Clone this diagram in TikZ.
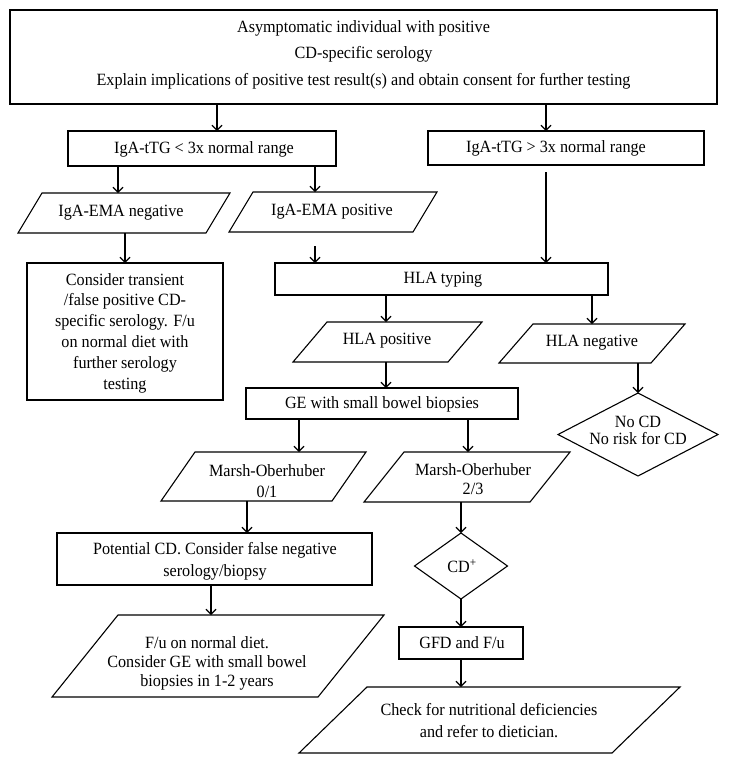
\documentclass[tikz,border=0pt]{standalone}
\usepackage{fontspec}
\setmainfont[FakeStretch=0.94]{Liberation Serif}
\usetikzlibrary{arrows.meta}
\newcommand{\plgm}[2]{\draw[ln] (#1.south west) -- ([xshift=#2pt]#1.north west) -- (#1.north east) -- ([xshift=-#2pt]#1.south east) -- cycle;}
\newcommand{\dmnd}[1]{\draw[ln] (#1.west) -- (#1.north) -- (#1.east) -- (#1.south) -- cycle;}
\begin{document}
\begin{tikzpicture}[x=1pt,y=-1pt,
  shp/.style={inner sep=0pt, outer sep=0pt},
  rbox/.style={shp, draw, line width=1.1pt},
  txt/.style={inner sep=0pt, align=center, font=\fontsize{17.2}{20.5}\selectfont},
  ln/.style={line width=1.1pt, line join=miter},
  arr/.style={line width=1.1pt, -{Straight Barb[length=5pt,width=10pt]}}
]
\fill[white] (0,0) rectangle (729,764);
\useasboundingbox (0,0) rectangle (729,764);

% shapes
\node[rbox, minimum width=707, minimum height=94] (top) at (363.5,57) {};
\node[rbox, minimum width=268, minimum height=35] (lt) at (202,148.5) {};
\node[rbox, minimum width=276, minimum height=34] (gt) at (566,148) {};
\node[shp, minimum width=212, minimum height=40] (emaneg) at (124,213) {};
\node[shp, minimum width=208, minimum height=40] (emapos) at (333,212) {};
\node[rbox, minimum width=196, minimum height=137] (cons) at (125,331.5) {};
\node[rbox, minimum width=333, minimum height=32] (hla) at (441.5,279) {};
\node[shp, minimum width=189, minimum height=40] (hlapos) at (387.5,342) {};
\node[shp, minimum width=186, minimum height=39] (hlaneg) at (592,343.5) {};
\node[rbox, minimum width=272, minimum height=31] (ge) at (382,403.5) {};
\node[shp, minimum width=160, minimum height=83] (nocd) at (638,434.5) {};
\node[shp, minimum width=205, minimum height=49] (m01) at (263.5,476.5) {};
\node[shp, minimum width=206, minimum height=50] (m23) at (467,477) {};
\node[rbox, minimum width=315, minimum height=52] (pot) at (214.5,559) {};
\node[shp, minimum width=93, minimum height=66] (cdp) at (461,566) {};
\node[shp, minimum width=332, minimum height=82] (fu) at (218,656) {};
\node[rbox, minimum width=124, minimum height=32] (gfd) at (461,643) {};
\node[shp, minimum width=381, minimum height=66] (check) at (489.5,720) {};

\plgm{emaneg}{24}
\plgm{emapos}{24}
\plgm{hlapos}{34}
\plgm{hlaneg}{34}
\plgm{m01}{34}
\plgm{m23}{40}
\plgm{fu}{66}
\plgm{check}{68}
\dmnd{nocd}
\dmnd{cdp}

% texts
\node[txt, font=\fontsize{17.2}{26.5}\selectfont] (top-t) at (363.5,54.5) {Asymptomatic individual with positive\\CD-specific serology\\Explain implications of positive test result(s) and obtain consent for further testing};
\node[txt] (lt-t) at (204,149) {IgA-tTG < 3x normal range};
\node[txt] (gt-t) at (556,148) {IgA-tTG > 3x normal range};
\node[txt] (emaneg-t) at (121,213) {IgA-EMA negative};
\node[txt] (emapos-t) at (332,212) {IgA-EMA positive};
\node[txt, font=\fontsize{17.2}{20.8}\selectfont] (cons-t) at (125,333) {Consider transient\\/false positive CD-\\specific serology. F/u\\on normal diet with\\further serology\\testing};
\node[txt] (hla-t) at (443,280) {HLA typing};
\node[txt] (hlapos-t) at (387,341) {HLA positive};
\node[txt] (hlaneg-t) at (592,343) {HLA negative};
\node[txt] (ge-t) at (382,404) {GE with small bowel biopsies};
\node[txt, font=\fontsize{17.2}{17}\selectfont] (nocd-t) at (638,430) {No CD\\No risk for CD};
\node[txt, font=\fontsize{17.2}{20.5}\selectfont] (m01-t) at (267,481) {Marsh-Oberhuber\\0/1};
\node[txt, font=\fontsize{17.2}{18.5}\selectfont] (m23-t) at (473,479) {Marsh-Oberhuber\\2/3};
\node[txt, font=\fontsize{17.2}{22}\selectfont] (pot-t) at (215,561) {Potential CD. Consider false negative\\serology/biopsy};
\node[txt] (cdp-t) at (462,566) {CD\textsuperscript{+}};
\node[txt, font=\fontsize{17.2}{18.7}\selectfont] (fu-t) at (207,663.5) {F/u on normal diet.\\Consider GE with small bowel\\biopsies in 1-2 years};
\node[txt] (gfd-t) at (462,643) {GFD and F/u};
\node[txt, font=\fontsize{17.2}{22}\selectfont] (check-t) at (489,721) {Check for nutritional deficiencies\\and refer to dietician.};

% arrow columns
\coordinate (xa) at (217,0);
\coordinate (xb) at (546,0);
\coordinate (xc) at (118,0);
\coordinate (xd) at (315,0);
\coordinate (xe) at (125,0);
\coordinate (xf) at (386,0);
\coordinate (xg) at (592,0);
\coordinate (xh) at (638,0);
\coordinate (xi) at (299,0);
\coordinate (xj) at (468,0);
\coordinate (xk) at (247,0);
\coordinate (xm) at (211,0);

\draw[arr] (top.south -| xa) -- (lt.north -| xa);
\draw[arr] (top.south -| xb) -- (gt.north -| xb);
\draw[arr] (lt.south -| xc) -- (emaneg.north -| xc);
\draw[arr] (lt.south -| xd) -- (emapos.north -| xd);
\draw[arr] (emaneg.south -| xe) -- (cons.north -| xe);
\draw[arr, shorten <=14pt] (emapos.south -| xd) -- (hla.north -| xd);
\draw[arr, shorten <=7pt] (gt.south -| xb) -- (hla.north -| xb);
\draw[arr] (hla.south -| xf) -- (hlapos.north -| xf);
\draw[arr] (hla.south -| xg) -- (hlaneg.north -| xg);
\draw[arr] (hlapos.south -| xf) -- (ge.north -| xf);
\draw[arr] (hlaneg.south -| xh) -- (nocd.north);
\draw[arr] (ge.south -| xi) -- (m01.north -| xi);
\draw[arr] (ge.south -| xj) -- (m23.north -| xj);
\draw[arr] (m01.south -| xk) -- (pot.north -| xk);
\draw[arr] (m23.south -| cdp.north) -- (cdp.north);
\draw[arr] (pot.south -| xm) -- (fu.north -| xm);
\draw[arr] (cdp.south) -- (gfd.north);
\draw[arr] (gfd.south) -- (check.north -| gfd.south);
\end{tikzpicture}
\end{document}
